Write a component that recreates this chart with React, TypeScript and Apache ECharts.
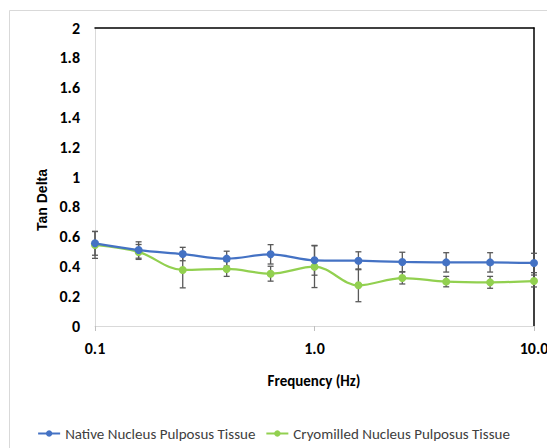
import React, { useEffect, useRef } from "react";
import * as echarts from "echarts";

const freq = [0.1, 0.158, 0.251, 0.398, 0.631, 1.0, 1.585, 2.512, 3.981, 6.31, 10];
const native = [0.555, 0.51, 0.483, 0.452, 0.481, 0.441, 0.438, 0.43, 0.427, 0.427, 0.423];
const nativeErr = [0.08, 0.055, 0.045, 0.05, 0.065, 0.1, 0.06, 0.065, 0.065, 0.065, 0.065];
const cryo = [0.544, 0.497, 0.376, 0.383, 0.351, 0.398, 0.273, 0.322, 0.298, 0.293, 0.302];
const cryoErr = [0.09, 0.05, 0.12, 0.05, 0.05, 0.14, 0.11, 0.04, 0.035, 0.04, 0.04];
const seriesNames = ["Native Nucleus Pulposus Tissue", "Cryomilled Nucleus Pulposus Tissue"];

const FONT = "Carlito, Roboto, 'Noto Sans', sans-serif";

function errData(vals: number[], errs: number[]) {
  return freq.map((f, i) => [f, vals[i] - errs[i], vals[i] + errs[i]]);
}

function errRender(params: any, api: any) {
  const x = api.value(0);
  const lo = api.coord([x, api.value(1)]);
  const hi = api.coord([x, api.value(2)]);
  const cap = 3;
  const style = { stroke: "#595959", lineWidth: 1.3 };
  return {
    type: "group",
    children: [
      { type: "line", shape: { x1: lo[0], y1: lo[1], x2: hi[0], y2: hi[1] }, style },
      { type: "line", shape: { x1: lo[0] - cap, y1: lo[1], x2: lo[0] + cap, y2: lo[1] }, style },
      { type: "line", shape: { x1: hi[0] - cap, y1: hi[1], x2: hi[0] + cap, y2: hi[1] }, style },
    ],
  };
}

export default function App() {
  const ref = useRef<HTMLDivElement>(null);
  useEffect(() => {
    document.body.style.margin = "0";
    const chart = echarts.init(ref.current!, undefined, { renderer: "svg", width: 547, height: 448 });
    chart.setOption({
      animation: false,
      backgroundColor: "#ffffff",
      grid: { left: 95, right: 13, top: 28, bottom: 122, containLabel: false, outerBoundsMode: "none" },
      graphic: [
        {
          type: "rect",
          shape: { x: 9.5, y: 10.5, width: 700, height: 600 },
          style: { fill: "none", stroke: "#d9d9d9", lineWidth: 1 },
          silent: true,
        },
        {
          type: "text",
          x: 42,
          y: 200,
          rotation: Math.PI / 2,
          style: {
            text: "Tan Delta",
            font: "bold 14px 'Liberation Sans', Arial, sans-serif",
            fill: "#000",
            align: "center",
            verticalAlign: "middle",
          },
        },
        {
          type: "text",
          x: 314,
          y: 381,
          style: {
            text: "Frequency (Hz)",
            font: `bold 15px ${FONT}`,
            fill: "#000",
            align: "center",
            verticalAlign: "middle",
          },
        },
      ],
      legend: {
        data: seriesNames,
        left: "center",
        top: 421,
        itemWidth: 22,
        itemHeight: 8,
        itemGap: 10,
        textStyle: { color: "#404040", fontSize: 15, fontFamily: FONT },
      },
      xAxis: [
        {
          type: "log",
          logBase: 10,
          min: 0.1,
          max: 10,
          axisLine: { lineStyle: { color: "#d9d9d9", width: 1 } },
          axisTick: { show: true, length: 5, lineStyle: { color: "#bfbfbf" } },
          minorTick: { show: false },
          splitLine: { show: false },
          axisLabel: {
            margin: 14,
            color: "#000",
            fontWeight: "bold",
            fontSize: 16,
            fontFamily: FONT,
            formatter: (v: number) => v.toFixed(1),
          },
        },
        {
          type: "log",
          logBase: 10,
          min: 0.1,
          max: 10,
          position: "top",
          axisLine: { show: true, onZero: false, lineStyle: { color: "#000", width: 1.5 } },
          axisTick: { show: false },
          axisLabel: { show: false },
          splitLine: { show: false },
        },
      ],
      yAxis: [
        {
          type: "value",
          min: 0,
          max: 2,
          interval: 0.2,
          axisLine: { show: true, lineStyle: { color: "#d9d9d9", width: 1 } },
          axisTick: { show: false },
          splitLine: { show: false },
          axisLabel: {
            margin: 15,
            color: "#000",
            fontWeight: "bold",
            fontSize: 16,
            fontFamily: FONT,
          },
        },
        {
          type: "value",
          min: 0,
          max: 2,
          interval: 0.2,
          position: "right",
          axisLine: { show: true, onZero: false, lineStyle: { color: "#000", width: 1.5 } },
          axisTick: { show: false },
          axisLabel: { show: false },
          splitLine: { show: false },
        },
      ],
      series: [
        {
          type: "custom",
          name: "errNative",
          renderItem: errRender,
          data: errData(native, nativeErr),
          z: 1,
          silent: true,
          clip: false,
        },
        {
          type: "custom",
          name: "errCryo",
          renderItem: errRender,
          data: errData(cryo, cryoErr),
          z: 1,
          silent: true,
          clip: false,
        },
        {
          name: seriesNames[0],
          type: "line",
          smooth: 0.35,
          data: freq.map((f, i) => [f, native[i]]),
          symbol: "circle",
          symbolSize: 8,
          color: "#4472C4",
          lineStyle: { color: "#4472C4", width: 2.25 },
          itemStyle: { color: "#4472C4" },
          z: 3,
        },
        {
          name: seriesNames[1],
          type: "line",
          smooth: 0.35,
          data: freq.map((f, i) => [f, cryo[i]]),
          symbol: "circle",
          symbolSize: 8,
          color: "#92D050",
          lineStyle: { color: "#92D050", width: 2.25 },
          itemStyle: { color: "#92D050" },
          z: 2,
        },
      ],
    });
    return () => chart.dispose();
  }, []);
  return <div ref={ref} style={{ width: 547, height: 448 }} />;
}
